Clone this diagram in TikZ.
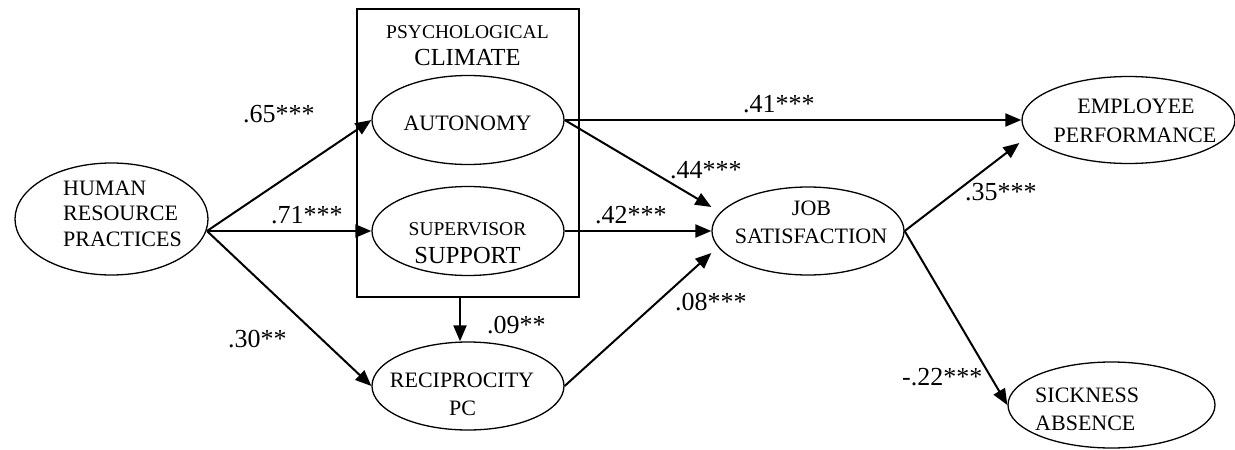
\documentclass[tikz,border=0pt]{standalone}
\usepackage{fontspec}
\setmainfont{Liberation Serif}
\usetikzlibrary{arrows.meta,shapes.geometric}
\tikzset{
  ell/.style={draw, line width=1.3pt, ellipse, inner sep=0pt},
  txt/.style={inner sep=0pt, anchor=base, font=\fontsize{22}{26}\selectfont},
  txtl/.style={inner sep=0pt, anchor=base west, font=\fontsize{22}{26}\selectfont},
  big/.style={font=\fontsize{24.5}{28}\selectfont},
  sml/.style={font=\fontsize{19.5}{23}\selectfont},
  lab/.style={inner sep=0pt, anchor=base west, font=\fontsize{26}{30}\selectfont},
  arr/.style={line width=2pt, -{Triangle[length=16pt,width=13pt]}},
}
\begin{document}
\begin{tikzpicture}[x=1pt,y=-1pt]
\useasboundingbox (0,0) rectangle (1235,450);
% box
\node[draw, line width=1.5pt, minimum width=222pt, minimum height=288pt, inner sep=0pt] (climate) at (468,153) {};
% ellipses
\node[ell, minimum width=193pt, minimum height=112pt] (hrp) at (111.5,219) {};
\node[ell, minimum width=192pt, minimum height=89pt] (aut) at (468,120) {};
\node[ell, minimum width=192pt, minimum height=89pt] (sup) at (468,231) {};
\node[ell, minimum width=192pt, minimum height=88pt] (rec) at (468,386) {};
\node[ell, minimum width=192pt, minimum height=88pt] (job) at (808,231) {};
\node[ell, minimum width=213pt, minimum height=87pt] (emp) at (1128.5,120) {};
\node[ell, minimum width=207pt, minimum height=86pt] (sick) at (1111.5,405) {};
% texts
\node[txtl] (t1) at (63,195) {HUMAN};
\node[txtl] (t2) at (63,220) {RESOURCE};
\node[txtl] (t3) at (63,246) {PRACTICES};
\node[txt, sml] (t4) at (467.5,38) {PSYCHOLOGICAL};
\node[txt, big] (t5) at (467.5,65) {CLIMATE};
\node[txt] (t6) at (467.5,130) {AUTONOMY};
\node[txt, sml] (t7) at (467.5,235) {SUPERVISOR};
\node[txt, big] (t8) at (467.5,263) {SUPPORT};
\node[txt] (t9) at (462,387) {RECIPROCITY};
\node[txt] (t10) at (462.5,415) {PC};
\node[txt] (t11) at (811.5,215) {JOB};
\node[txt] (t12) at (811,243) {SATISFACTION};
\node[txt] (t13) at (1136,113) {EMPLOYEE};
\node[txt] (t14) at (1135,142) {PERFORMANCE};
\node[txtl] (t15) at (1035,402) {SICKNESS};
\node[txtl] (t16) at (1035,430) {ABSENCE};
% connectors
\coordinate (hrpo) at (207,231);
\draw[arr] (hrpo) -- (aut.west);
\draw[arr] (hrpo) -- (sup.west);
\draw[arr] (hrpo) -- (rec.west);
\draw[arr] ([xshift=-8pt]climate.south) -- ([xshift=-8pt]rec.north);
\draw[arr] (aut.east) -- (emp.west);
\draw[arr] (aut.east) -- ([yshift=24pt]job.west);
\draw[arr] (sup.east) -- (job.west);
\draw[arr] (rec.east) -- ([yshift=-22pt]job.west);
\draw[arr] (job.east) -- ([shift={(-2pt,-23pt)}]emp.west);
\draw[arr] (job.east) -- (sick.west);
% labels
\node[lab] (l1) at (243,122) {.65***};
\node[lab] (l2) at (271,223) {.71***};
\node[lab] (l3) at (228,347) {.30**};
\node[lab] (l4) at (487,333) {.09**};
\node[lab] (l5) at (743,112) {.41***};
\node[lab] (l6) at (670,178) {.44***};
\node[lab] (l7) at (595,223) {.42***};
\node[lab] (l8) at (675,310) {.08***};
\node[lab] (l9) at (965,200) {.35***};
\node[lab] (l10) at (902,385) {-.22***};
\end{tikzpicture}
\end{document}
